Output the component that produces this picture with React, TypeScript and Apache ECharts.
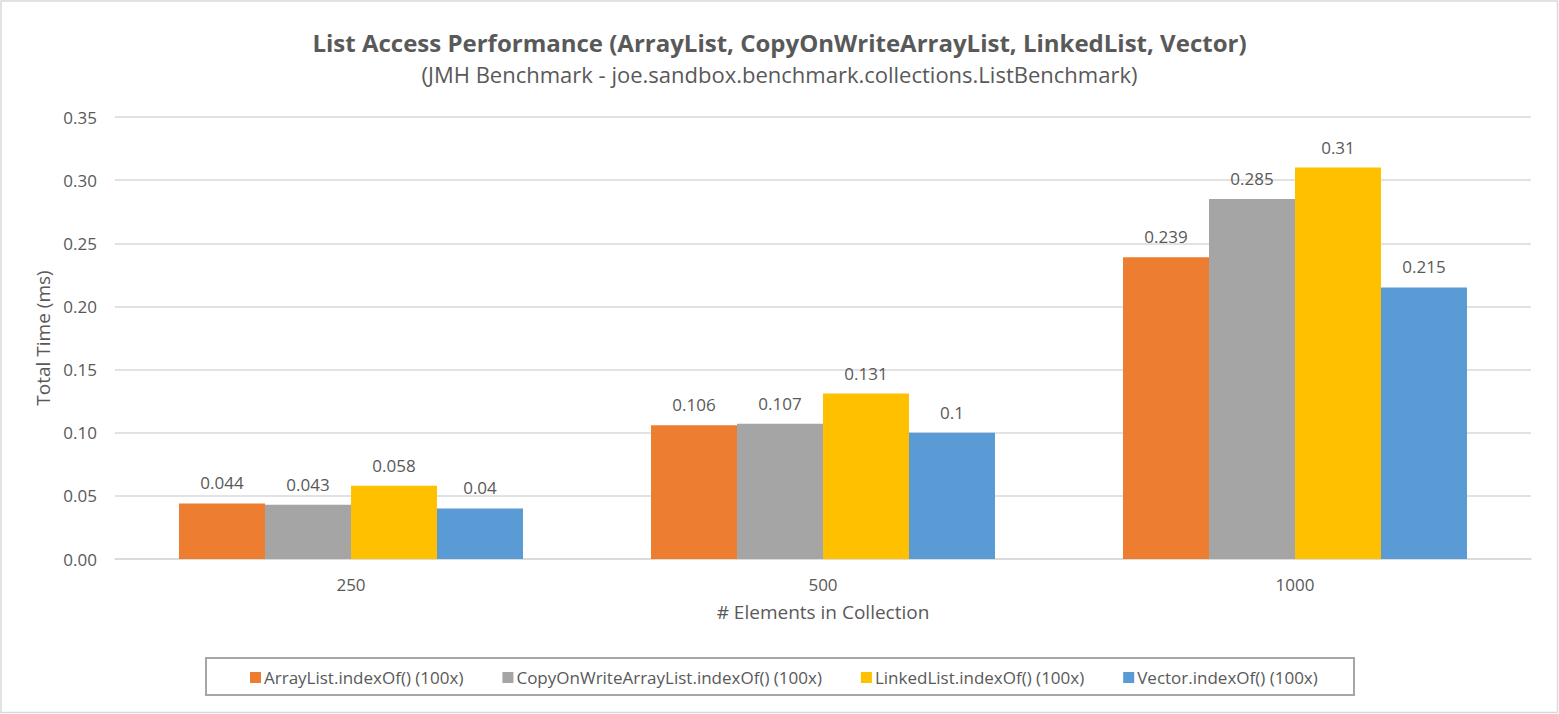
import React, { useEffect, useRef } from "react";
import * as echarts from "echarts";

const categories = ["250", "500", "1000"];
const seriesNames = [
  "ArrayList.indexOf() (100x)",
  "CopyOnWriteArrayList.indexOf() (100x)",
  "LinkedList.indexOf() (100x)",
  "Vector.indexOf() (100x)",
];
const arrayListValues = [0.044, 0.106, 0.239];
const cowValues = [0.043, 0.107, 0.285];
const linkedListValues = [0.058, 0.131, 0.31];
const vectorValues = [0.04, 0.1, 0.215];
const seriesColors = ["#ED7D31", "#A5A5A5", "#FFC000", "#5B9BD5"];

const FONT = "'Open Sans', 'Noto Sans', sans-serif";
const TEXT = "#595959";

export default function App() {
  const ref = useRef<HTMLDivElement>(null);
  useEffect(() => {
    document.body.style.margin = "0";
    if (!ref.current) return;
    const chart = echarts.init(ref.current, null, { renderer: "svg" });
    const allValues = [arrayListValues, cowValues, linkedListValues, vectorValues];
    chart.setOption({
      animation: false,
      backgroundColor: "#ffffff",
      textStyle: { fontFamily: FONT, color: TEXT },
      title: {
        text: "List Access Performance (ArrayList, CopyOnWriteArrayList, LinkedList, Vector)",
        subtext: "(JMH Benchmark - joe.sandbox.benchmark.collections.ListBenchmark)",
        left: "center",
        top: 25,
        itemGap: 9,
        textStyle: { fontFamily: FONT, fontSize: 24, fontWeight: "bold", color: TEXT },
        subtextStyle: { fontFamily: FONT, fontSize: 22, color: TEXT },
      },
      graphic: [
        {
          type: "rect",
          shape: { x: 1, y: 1, width: 1556.5, height: 711.5 },
          style: { fill: "none", stroke: "#d9d9d9", lineWidth: 1.5 },
          silent: true,
        },
        {
          type: "rect",
          shape: { x: 206, y: 658, width: 1148, height: 37 },
          style: { fill: "none", stroke: "#a6a6a6", lineWidth: 2 },
          silent: true,
        },
      ],
      legend: {
        data: seriesNames,
        left: 245,
        top: 664,
        itemWidth: 11,
        itemHeight: 11,
        itemGap: 39,
        icon: "rect",
        textStyle: { fontFamily: FONT, fontSize: 17, color: TEXT, padding: [0, 0, 0, -2] },
      },
      grid: { left: 115, right: 28, top: 117, bottom: 155, containLabel: false },
      xAxis: {
        type: "category",
        data: categories,
        name: "# Elements in Collection",
        nameLocation: "middle",
        nameGap: 43,
        nameTextStyle: { fontFamily: FONT, fontSize: 19, color: TEXT },
        axisLine: { lineStyle: { color: "#d9d9d9", width: 1.5 } },
        axisTick: { show: false },
        axisLabel: { fontFamily: FONT, fontSize: 17, color: TEXT, margin: 17 },
      },
      yAxis: {
        type: "value",
        min: 0,
        max: 0.35,
        interval: 0.05,
        name: "Total Time (ms)",
        nameLocation: "middle",
        nameGap: 62,
        nameTextStyle: { fontFamily: FONT, fontSize: 19, color: TEXT },
        axisLine: { show: false },
        axisTick: { show: false },
        splitLine: { lineStyle: { color: "#d9d9d9", width: 1.5 } },
        axisLabel: {
          fontFamily: FONT,
          fontSize: 17,
          color: TEXT,
          margin: 18,
          formatter: (v: number) => v.toFixed(2),
        },
      },
      series: seriesNames.map((name, i) => ({
        name,
        type: "bar",
        data: allValues[i],
        barWidth: 86,
        barGap: "0%",
        itemStyle: { color: seriesColors[i] },
        label: {
          show: true,
          position: "top",
          distance: 12,
          fontFamily: FONT,
          fontSize: 17,
          color: TEXT,
        },
      })),
    });
    return () => chart.dispose();
  }, []);
  return <div ref={ref} style={{ width: 1559, height: 714 }} />;
}
